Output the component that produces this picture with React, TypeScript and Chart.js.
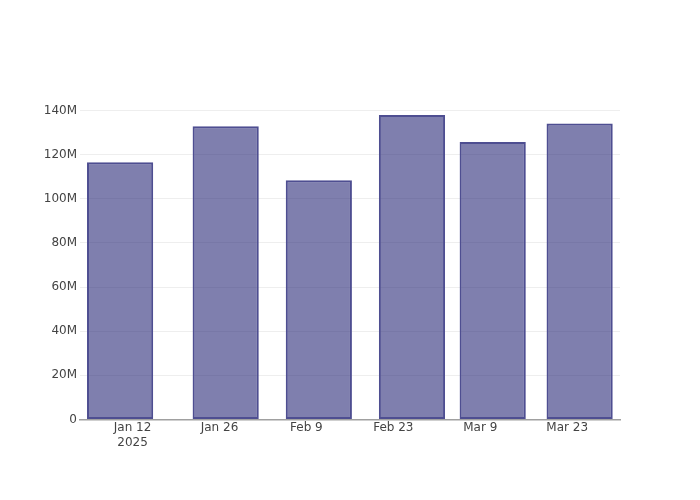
import React, { useEffect, useRef } from "react";
import { Chart, registerables } from "chart.js";

Chart.register(...registerables);

const dates = ["2025-01-10", "2025-01-27", "2025-02-11", "2025-02-26", "2025-03-11", "2025-03-25"];
const valuesM = [116.6, 132.9, 108.4, 138.0, 125.8, 134.1];
const tickDates = ["2025-01-12", "2025-01-26", "2025-02-09", "2025-02-23", "2025-03-09", "2025-03-23"];
const yTicksM = [0, 20, 40, 60, 80, 100, 120, 140];
const monthNames = ["Jan", "Feb", "Mar", "Apr", "May", "Jun", "Jul", "Aug", "Sep", "Oct", "Nov", "Dec"];

const DAY = 86400000;
const toDay = (s: string) => {
  const [y, m, d] = s.split("-").map(Number);
  return Date.UTC(y, m - 1, d) / DAY;
};

export default function App() {
  const ref = useRef<HTMLCanvasElement | null>(null);

  useEffect(() => {
    if (!ref.current) return;
    const tickDays = tickDates.map(toDay);
    const first = tickDays[0];
    const data = dates.map((d, i) => ({ x: toDay(d), y: valuesM[i] * 1e6 }));
    const font = { family: "DejaVu Sans", size: 12 };
    const chart = new Chart(ref.current, {
      type: "bar",
      data: {
        datasets: [
          {
            data,
            backgroundColor: "rgba(42,42,120,0.6)",
            borderColor: "rgb(78,78,145)",
            borderWidth: 2,
            borderSkipped: false,
            barPercentage: 0.82,
            categoryPercentage: 1,
          },
        ],
      },
      options: {
        animation: false,
        responsive: false,
        layout: { padding: { left: 0, right: 80, top: 100, bottom: 0 } },
        plugins: { legend: { display: false }, tooltip: { enabled: false } },
        scales: {
          x: {
            type: "linear",
            offset: false,
            min: first - 8.46,
            max: first + 78.5,
            grid: { color: "rgba(0,0,0,0)", drawTicks: false, offset: false },
            border: { display: true, color: "#a0a0a0", width: 1.5 },
            afterBuildTicks: (s: any) => {
              s.ticks = tickDays.map((v) => ({ value: v }));
            },
            afterFit: (s: any) => {
              s.height = 80.5;
            },
            ticks: {
              padding: 1,
              color: "#444",
              font: { ...font, lineHeight: 1.25 },
              maxRotation: 0,
              autoSkip: false,
              callback: (v: any, i: number) => {
                const dt = new Date(Number(v) * DAY);
                const lbl = monthNames[dt.getUTCMonth()] + " " + dt.getUTCDate();
                return i === 0 ? [lbl, String(dt.getUTCFullYear())] : lbl;
              },
            },
          },
          y: {
            min: 0,
            max: 144.8e6,
            grid: { color: "#eeeeee", drawTicks: false, lineWidth: 1 },
            border: { display: false },
            afterBuildTicks: (s: any) => {
              s.ticks = yTicksM.map((v) => ({ value: v * 1e6 }));
            },
            afterFit: (s: any) => {
              s.width = 80;
            },
            ticks: {
              padding: 3,
              color: "#444",
              font,
              callback: (v: any) => (Number(v) === 0 ? "0" : Number(v) / 1e6 + "M"),
            },
          },
        },
      },
    } as any);
    return () => chart.destroy();
  }, []);

  return (
    <div style={{ position: "absolute", left: 0, top: 0, width: 700, height: 500, background: "#fff" }}>
      <canvas ref={ref} width={700} height={500} style={{ width: 700, height: 500 }} />
    </div>
  );
}
